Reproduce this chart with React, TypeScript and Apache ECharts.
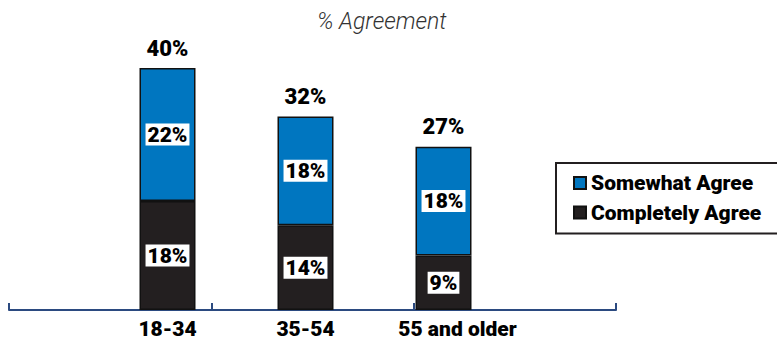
import React, { useEffect, useRef } from "react";
import * as echarts from "echarts";

const categories = ["18-34", "35-54", "55 and older"];
const completelyAgree = [18, 14, 9];
const somewhatAgree = [22, 18, 18];
const totals = [40, 32, 27];
const axisSlots = ["", "", ""];

const FONT = 'Roboto, "Liberation Sans", Arial, sans-serif';
const BLUE = "#0076c0";
const DARK = "#231f20";

export default function App() {
  const ref = useRef<HTMLDivElement>(null);
  useEffect(() => {
    document.body.style.margin = "0";
    if (!ref.current) return;
    const chart = echarts.init(ref.current, null, { renderer: "svg" });
    const insideLabel = {
      show: true,
      position: "inside",
      formatter: "{c}%",
      color: "#000",
      fontFamily: FONT,
      fontWeight: 900,
      fontSize: 21,
      lineHeight: 21,
      backgroundColor: "#fff",
      padding: [1, 2, 0, 2],
    };
    chart.setOption({
      animation: false,
      title: {
        text: "% Agreement",
        left: 312,
        top: 5,
        textStyle: {
          fontFamily: FONT,
          fontStyle: "italic",
          fontWeight: 300,
          fontSize: 23,
          color: "#333",
        },
      },
      legend: {
        orient: "vertical",
        left: 556,
        top: 163,
        data: ["Somewhat Agree", "Completely Agree"],
        icon: "rect",
        itemWidth: 12,
        itemHeight: 12,
        itemGap: 7.5,
        borderColor: DARK,
        borderWidth: 2,
        padding: [9, 40, 10, 17],
        textStyle: {
          fontFamily: FONT,
          fontWeight: 900,
          fontSize: 21,
          lineHeight: 22,
          color: "#000",
        },
      },
      grid: [
        { left: 98.5, width: 414, top: 7.5, bottom: 34 },
        { left: 9, width: 607, top: 7.5, bottom: 34 },
      ],
      xAxis: [
        {
          type: "category",
          gridIndex: 0,
          data: categories.map((c, i) =>
            i === 2 ? { value: c, textStyle: { padding: [0, 0, 0, 28] } } : c
          ),
          axisLine: { show: false },
          axisTick: { show: false },
          axisLabel: {
            interval: 0,
            margin: 8,
            fontFamily: FONT,
            fontWeight: 900,
            fontSize: 21,
            color: "#000",
          },
        },
        {
          type: "category",
          gridIndex: 1,
          data: axisSlots,
          boundaryGap: true,
          axisLine: { show: true, lineStyle: { color: "#2b4a80", width: 2 } },
          axisTick: { show: true, inside: true, length: 7, lineStyle: { color: "#2b4a80", width: 2 } },
          axisLabel: { show: false },
        },
      ],
      yAxis: [
        { type: "value", gridIndex: 0, min: 0, max: 50, show: false },
        { type: "value", gridIndex: 1, min: 0, max: 50, show: false },
      ],
      series: [
        {
          name: "Completely Agree",
          type: "bar",
          stack: "a",
          barWidth: 56,
          data: completelyAgree,
          itemStyle: { color: DARK, borderColor: "#111", borderWidth: 1.5 },
          label: insideLabel,
        },
        {
          name: "Somewhat Agree",
          type: "bar",
          stack: "a",
          barWidth: 56,
          data: somewhatAgree,
          itemStyle: { color: BLUE, borderColor: "#111", borderWidth: 1.5 },
          label: insideLabel,
        },
        {
          name: "Total",
          type: "bar",
          barWidth: 56,
          barGap: "-100%",
          data: totals,
          z: 1,
          silent: true,
          itemStyle: { color: "rgba(0,0,0,0)" },
          label: {
            show: true,
            position: "top",
            distance: 9,
            formatter: "{c}%",
            color: "#000",
            fontFamily: FONT,
            fontWeight: 900,
            fontSize: 22,
          },
        },
      ],
    });
    return () => chart.dispose();
  }, []);
  return <div ref={ref} style={{ width: 777, height: 344 }} />;
}
